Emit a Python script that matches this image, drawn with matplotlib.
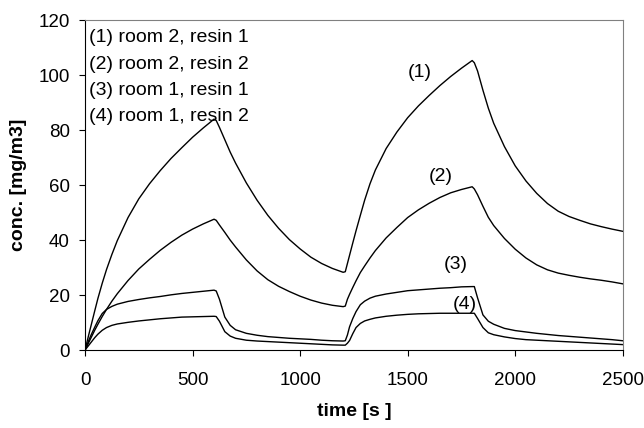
#!/usr/bin/env python3

"""
CONCENTRATION IN TWO ROOMS FOR TWO RESINS

(two emission / ventilation cycles, values read off the original chart)

"""

import matplotlib

matplotlib.use("Agg")
import matplotlib.pyplot as plt

plt.rcParams["font.family"] = ["Liberation Sans", "DejaVu Sans"]

# time [s]
time_s = [
    0, 10, 20, 30, 45, 60, 80, 100, 125, 150, 200, 250, 300, 350, 400, 450, 500, 550, 600,
    610, 625, 650, 675, 700, 750, 800, 850, 900, 950, 1000, 1050, 1100, 1150, 1200,
    1210, 1220, 1230, 1245, 1260, 1280, 1300, 1325, 1350, 1400, 1450, 1500, 1550, 1600, 1650, 1700, 1750, 1800,
    1810, 1825, 1850, 1875, 1900, 1950, 2000, 2050, 2100, 2150, 2200, 2250, 2300, 2350, 2400, 2450, 2500,
]

# (1) room 2, resin 1
room2_resin1 = [
    0, 3.2, 6.4, 9.5, 14.2, 18.8, 24.3, 29.3, 34.8, 39.8, 48.2, 55, 60.5, 65.3, 69.7, 73.6, 77.4, 80.8, 84,
    83.5, 81, 76.5, 72, 68, 60.8, 54.5, 49, 44.3, 40.2, 36.8, 33.8, 31.5, 29.7, 28.3,
    28.5, 31.5, 34.5, 39, 43.4, 49, 54.5, 60.5, 65.5, 73.3, 79.3, 84.5, 88.8, 92.6, 96.2, 99.5, 102.5, 105.3,
    104.5, 101.5, 94.5, 88, 82.5, 74, 67, 61.5, 57, 53.3, 50.5, 48.6, 47.2, 45.9, 44.9, 44, 43.2,
]

# (2) room 2, resin 2
room2_resin2 = [
    0, 1.6, 3.2, 4.8, 7.2, 9.4, 12.2, 14.8, 17.8, 20.5, 25.3, 29.5, 33, 36.3, 39.2, 41.8, 44, 45.9, 47.6,
    47.2, 45.5, 42.8, 40, 37.5, 32.8, 28.8, 25.6, 23.2, 21.3, 19.6, 18.2, 17.1, 16.3, 15.8,
    16, 18.5, 20.3, 22.8, 25.2, 28.2, 30.6, 33.5, 36.2, 40.8, 44.6, 48.2, 51, 53.4, 55.5, 57.2, 58.4, 59.4,
    58.6, 56.5, 52.3, 48.3, 45.3, 40.6, 36.7, 33.5, 31, 29.2, 28, 27.2, 26.5, 25.9, 25.4, 24.8, 24.1,
]

# (3) room 1, resin 1
room1_resin1 = [
    0, 2, 4, 5.8, 8.3, 10.7, 13.3, 14.8, 15.9, 16.7, 17.7, 18.4, 19, 19.5, 20.1, 20.6, 21, 21.4, 21.8,
    21.5, 18.5, 12, 9, 7.4, 6.1, 5.4, 4.9, 4.6, 4.3, 4.1, 3.9, 3.6, 3.4, 3.3,
    3.4, 5.5, 8.5, 11.5, 14, 16.5, 17.8, 18.9, 19.6, 20.4, 21, 21.6, 21.9, 22.2, 22.5, 22.7, 23, 23.1,
    23.1, 19, 12.8, 10.5, 9.4, 7.9, 7.1, 6.6, 6.1, 5.7, 5.3, 5, 4.7, 4.4, 4.1, 3.8, 3.4,
]

# (4) room 1, resin 2
room1_resin2 = [
    0, 1, 2, 3, 4.5, 5.8, 7.2, 8.2, 9, 9.5, 10.1, 10.6, 11, 11.4, 11.7, 12, 12.1, 12.2, 12.3,
    12.2, 10.5, 6.7, 5.1, 4.3, 3.6, 3.3, 3.1, 2.9, 2.7, 2.5, 2.3, 2.1, 1.9, 1.8,
    1.8, 2.5, 3.5, 6, 8.2, 9.7, 10.6, 11.2, 11.7, 12.3, 12.7, 13, 13.2, 13.3, 13.4, 13.4, 13.4, 13.4,
    13.4, 11.5, 8.2, 6.3, 5.6, 4.8, 4.2, 3.8, 3.6, 3.4, 3.2, 3, 2.8, 2.6, 2.4, 2.2, 2,
]

legend_lines = [
    "(1) room 2, resin 1",
    "(2) room 2, resin 2",
    "(3) room 1, resin 1",
    "(4) room 1, resin 2",
]
curve_tags = ["(1)", "(2)", "(3)", "(4)"]

fig = plt.figure(figsize=(6.44, 4.28), dpi=100)
ax = fig.add_axes([0.132, 0.182, 0.835, 0.771])

for series in (room2_resin1, room2_resin2, room1_resin1, room1_resin2):
    ax.plot(time_s, series, color="black", linewidth=1.0)

ax.set_xlim(0, 2500)
ax.set_ylim(0, 120)
ax.set_xticks([0, 500, 1000, 1500, 2000, 2500])
ax.set_yticks([0, 20, 40, 60, 80, 100, 120])
ax.tick_params(direction="out", length=4, width=0.8, labelsize=13.5)
ax.tick_params(axis="x", pad=12)
ax.tick_params(axis="y", pad=7)

for side in ("top", "right"):
    ax.spines[side].set_color("#808080")
for side in ("left", "bottom"):
    ax.spines[side].set_color("black")

ax.set_xlabel("time [s ]", fontsize=14, fontweight="bold", labelpad=10)
ax.set_ylabel("conc. [mg/m3]", fontsize=14, fontweight="bold", labelpad=8)

# legend block, top-left
for i, line in enumerate(legend_lines):
    ax.text(18, 113.6 - i * 9.6, line, fontsize=14, ha="left", va="center")

# tags next to the curves
tag_pos = [(1557, 101), (1654, 63), (1722, 31.3), (1766, 16.7)]
for tag, (tx, ty) in zip(curve_tags, tag_pos):
    ax.text(tx, ty, tag, fontsize=14, ha="center", va="center")

fig.savefig("out.png", dpi=100)
